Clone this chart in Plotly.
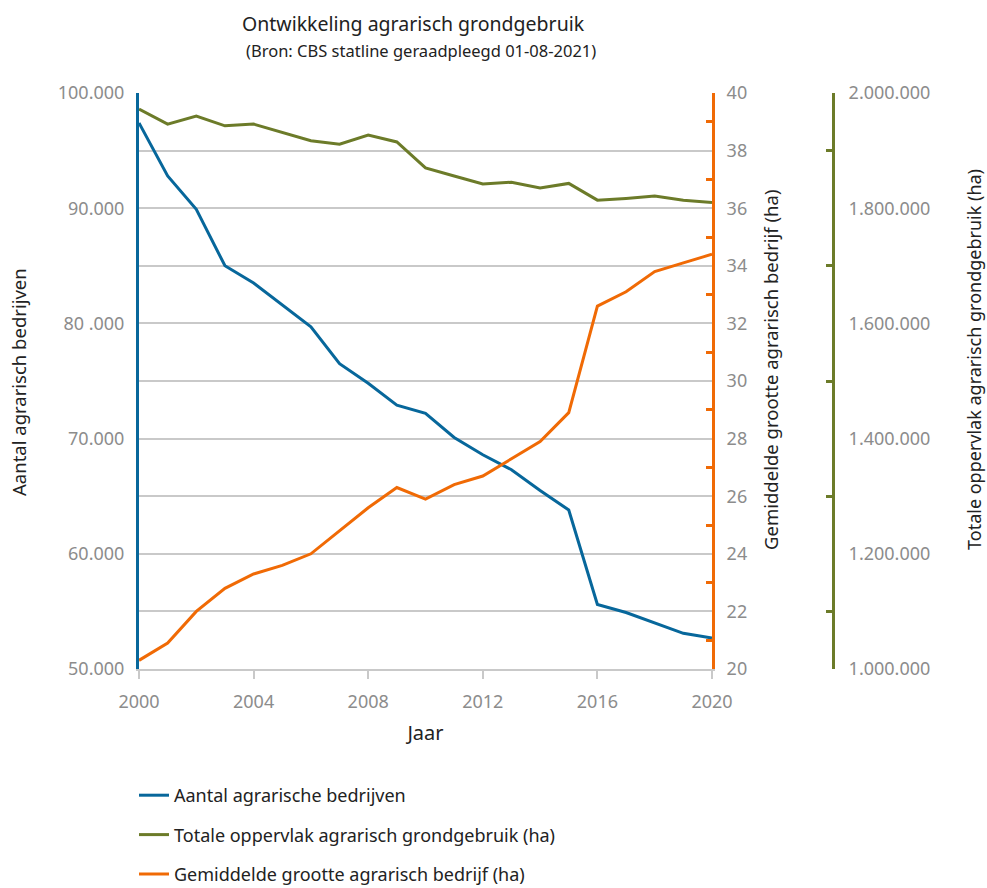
import plotly.graph_objects as go

years = list(range(2000, 2021))

# Aantal agrarische bedrijven
bedrijven = [97400, 92800, 89900, 85000, 83500, 81600, 79700, 76500, 74800, 72900,
             72200, 70100, 68600, 67300, 65500, 63800, 55600, 54900, 54000, 53100, 52700]

# Gemiddelde grootte agrarisch bedrijf (ha)
grootte = [20.3, 20.9, 22.0, 22.8, 23.3, 23.6, 24.0, 24.8, 25.6, 26.3,
           25.9, 26.4, 26.7, 27.3, 27.9, 28.9, 32.6, 33.1, 33.8, 34.1, 34.4]

# Totale oppervlak agrarisch grondgebruik (ha)
oppervlak = [1972000, 1946000, 1960000, 1943000, 1946000, 1932000, 1917000, 1911000, 1927000, 1915000,
             1870000, 1856000, 1842000, 1845000, 1835000, 1843000, 1814000, 1817000, 1821000, 1814000, 1810000]

left_ticks = list(range(50000, 100001, 5000))
left_text = {50000: "50.000", 60000: "60.000", 70000: "70.000",
             80000: "80 .000", 90000: "90.000", 100000: "100.000"}

BLUE = "#07679b"
OLIVE = "#6c7b29"
ORANGE = "#f06a05"
GREY = "#8c8c8c"
GRID = "#c9c9c9"
INK = "#222222"
FONT = "Noto Sans"

fig = go.Figure()
fig.add_trace(go.Scatter(x=years, y=bedrijven, name="Aantal agrarische bedrijven",
                         mode="lines", line=dict(color=BLUE, width=3), yaxis="y",
                         legendgroup="a"))
fig.add_trace(go.Scatter(x=years, y=oppervlak, name="Totale oppervlak agrarisch grondgebruik (ha)",
                         mode="lines", line=dict(color=OLIVE, width=3), yaxis="y3",
                         legendgroup="b"))
fig.add_trace(go.Scatter(x=years, y=grootte, name="Gemiddelde grootte agrarisch bedrijf (ha)",
                         mode="lines", line=dict(color=ORANGE, width=3), yaxis="y2",
                         legendgroup="c"))

W, H = 987, 888
L, R, T, B = 139, 20, 93, 219
pw = W - L - R
ph = H - T - B
x_end = (712 - L) / pw
olive_pos = (833 - L) / pw


def px(x):
    return (x - L) / pw


def py(y):
    return 1 - (y - T) / ph


def label(text, x, y, size, angle=0):
    return dict(text=text, x=px(x), y=py(y), xref="paper", yref="paper",
                xanchor="center", yanchor="middle", textangle=angle,
                showarrow=False, font=dict(size=size, color=INK))


TICKFONT = dict(size=18, color=GREY)

fig.update_layout(
    width=W, height=H,
    margin=dict(l=L, r=R, t=T, b=B, autoexpand=False),
    paper_bgcolor="white", plot_bgcolor="white",
    font=dict(family=FONT, color=INK),
    showlegend=True,
    legend=dict(x=px(134), xanchor="left", y=py(777), yanchor="top",
                font=dict(size=18, color=INK),
                traceorder="grouped", tracegroupgap=13,
                itemwidth=30),
    xaxis=dict(domain=[0, x_end], range=[2000, 2020],
               tickvals=list(range(2000, 2021, 4)),
               ticks="outside", ticklen=8, tickcolor=GRID, tickwidth=1.5,
               showline=True, linecolor=GRID, linewidth=1.5,
               showgrid=False, zeroline=False, automargin=False,
               tickfont=TICKFONT, ticklabelstandoff=8,
               title=dict(text="Jaar", font=dict(size=20, color=INK), standoff=14)),
    yaxis=dict(range=[50000, 100000], tickvals=left_ticks,
               ticktext=[left_text.get(v, "") for v in left_ticks],
               showgrid=True, gridcolor=GRID, gridwidth=1.5,
               showline=True, linecolor=BLUE, linewidth=3,
               ticks="", zeroline=False, automargin=False,
               tickfont=TICKFONT, ticklabelstandoff=8),
    yaxis2=dict(range=[20, 40], dtick=2, overlaying="y", side="right", anchor="x",
                showgrid=False, zeroline=False, automargin=False,
                showline=True, linecolor=ORANGE, linewidth=3,
                ticks="",
                minor=dict(dtick=1, ticks="inside", ticklen=6, tickcolor=ORANGE, tickwidth=2.5,
                           showgrid=False),
                tickfont=TICKFONT, ticklabelstandoff=8),
    yaxis3=dict(range=[1000000, 2000000], overlaying="y", side="right",
                anchor="free", position=olive_pos,
                tickvals=list(range(1000000, 2000001, 200000)),
                ticktext=["1.000.000", "1.200.000", "1.400.000", "1.600.000", "1.800.000", "2.000.000"],
                showgrid=False, zeroline=False, automargin=False,
                showline=True, linecolor=OLIVE, linewidth=3,
                ticks="",
                minor=dict(tickvals=list(range(1100000, 2000000, 200000)), ticks="inside",
                           ticklen=6, tickcolor=OLIVE, tickwidth=2.5, showgrid=False),
                tickfont=TICKFONT, ticklabelstandoff=10),
    annotations=[
        label("Ontwikkeling agrarisch grondgebruik", 413, 24, 19.5),
        label("(Bron: CBS statline geraadpleegd 01-08-2021)", 421, 50, 16.5),
        label("Aantal agrarisch bedrijven", 18, 382, 18.5, -90),
        label("Gemiddelde grootte agrarisch bedrijf (ha)", 770, 370, 18.5, -90),
        label("Totale oppervlak agrarisch grondgebruik (ha)", 974, 360, 18, -90),
    ],
)

fig.write_html("out.html")
